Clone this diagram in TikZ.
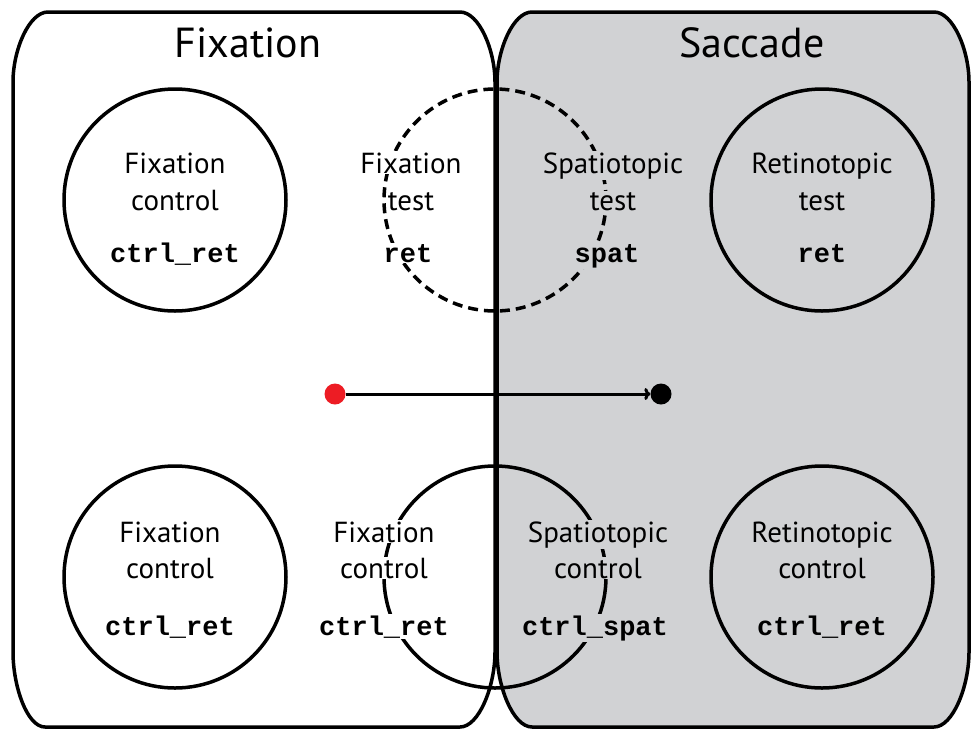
\documentclass[tikz,border=0pt]{standalone}
\usepackage{fontspec}
\setmainfont{PT Sans}
\setmonofont{Liberation Mono}
\usetikzlibrary{arrows.meta}
\definecolor{boxgray}{RGB}{209,210,212}
\definecolor{dotred}{RGB}{237,28,36}
\begin{document}
\begin{tikzpicture}[x=1pt,y=-1pt,
  frame/.style={line width=3.5pt},
  ring/.style={circle,draw,line width=3.5pt,minimum size=222pt,inner sep=0pt},
  dring/.style={ring,dash pattern=on 10pt off 6pt},
  lbl/.style={font=\fontsize{29}{32}\selectfont,anchor=base,inner sep=1pt},
  code/.style={font=\fontsize{27}{32}\selectfont\ttfamily\bfseries,anchor=base,inner sep=1pt},
  onwhite/.style={fill=white},
  ongray/.style={fill=boxgray},
  title/.style={font=\fontsize{42}{48}\selectfont,anchor=base,inner sep=0pt},
  dot/.style={circle,fill,inner sep=0pt,minimum size=21pt}]
\useasboundingbox (0,0) rectangle (971,729);
% left box
\draw[frame,fill=white] (48,12) -- (460,12)
  .. controls (479,12) and (495,50) .. (495,82) -- (495,652)
  .. controls (495,686) and (479,727) .. (460,727) -- (45,727)
  .. controls (27,727) and (13,686) .. (13,652) -- (13,82)
  .. controls (13,50) and (29,12) .. (48,12) -- cycle;
% right box
\draw[frame,fill=boxgray] (532,12) -- (934,12)
  .. controls (953,12) and (969,50) .. (969,82) -- (969,652)
  .. controls (969,686) and (953,727) .. (934,727) -- (532,727)
  .. controls (513,727) and (497,686) .. (497,652) -- (497,82)
  .. controls (497,50) and (513,12) .. (532,12) -- cycle;
% titles
\node[title] (tfix) at (248,57) {Fixation};
\node[title] (tsac) at (752,57) {Saccade};
% circles
\node[ring] (c1) at (175,200) {};
\node[dring] (c2) at (495,200) {};
\node[ring] (c3) at (822,200) {};
\node[ring] (c4) at (175,577) {};
\node[ring] (c5) at (495,577) {};
\node[ring] (c6) at (822,577) {};
% top row labels
\node[lbl] (a1) at (175,173) {Fixation};
\node[lbl] (a2) at (175,210) {control};
\node[code] (a3) at (175,262) {ctrl\_ret};
\node[lbl,onwhite] (b1) at (411,173) {Fixation};
\node[lbl,onwhite] (b2) at (411,210) {test};
\node[code,onwhite] (b3) at (408,262) {ret};
\node[lbl,ongray] (d1) at (613,173) {Spatiotopic};
\node[lbl,ongray] (d2) at (613,210) {test};
\node[code,ongray] (d3) at (607,262) {spat};
\node[lbl] (e1) at (822,173) {Retinotopic};
\node[lbl] (e2) at (822,210) {test};
\node[code] (e3) at (822,262) {ret};
% bottom row labels
\node[lbl] (f1) at (170,542) {Fixation};
\node[lbl] (f2) at (170,578) {control};
\node[code] (f3) at (170,635) {ctrl\_ret};
\node[lbl,onwhite] (g1) at (384,542) {Fixation};
\node[lbl,onwhite] (g2) at (384,578) {control};
\node[code,onwhite] (g3) at (384,635) {ctrl\_ret};
\node[lbl,ongray] (h1) at (598,542) {Spatiotopic};
\node[lbl,ongray] (h2) at (598,578) {control};
\node[code,ongray] (h3) at (595,635) {ctrl\_spat};
\node[lbl] (k1) at (822,542) {Retinotopic};
\node[lbl] (k2) at (822,578) {control};
\node[code] (k3) at (822,635) {ctrl\_ret};
% saccade arrow
\node[dot,fill=dotred] (start) at (335,394) {};
\node[dot,fill=black] (stop) at (661,394) {};
\draw[line width=3pt,-{To[length=6pt,width=12pt]}] (start) -- (stop);
\end{tikzpicture}
\end{document}
